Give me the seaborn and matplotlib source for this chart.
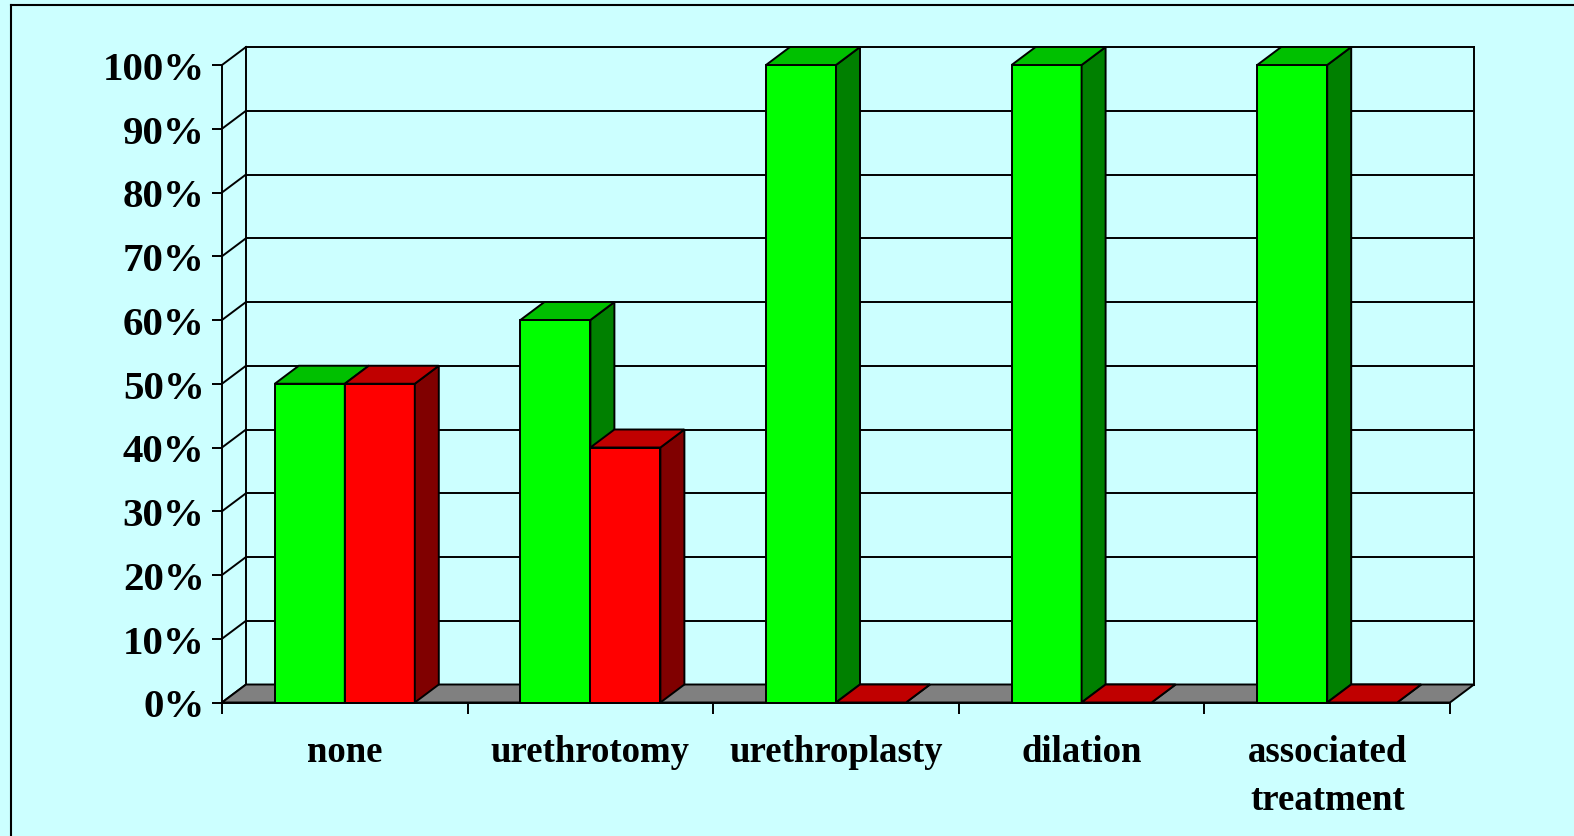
import numpy as np
import pandas as pd
import matplotlib
matplotlib.use("Agg")
import matplotlib.pyplot as plt
from matplotlib.patches import Polygon
from matplotlib.lines import Line2D
import seaborn as sns

# data
treatments = ["none", "urethrotomy", "urethroplasty", "dilation", "associated\ntreatment"]
green_pct = [50, 60, 100, 100, 100]
red_pct = [50, 40, 0, 0, 0]
yticks = list(range(0, 101, 10))
ytick_labels = [f"{v}%" for v in yticks]

df = pd.DataFrame({
    "treatment": treatments * 2,
    "pct": green_pct + red_pct,
    "outcome": ["green"] * len(treatments) + ["red"] * len(treatments),
})

bg = "#CCFFFF"
front_cols = ["#00FF00", "#FF0000"]
top_cols = ["#00C000", "#C00000"]
side_cols = ["#008000", "#800000"]
floor_col = "#808080"

plt.rcParams["font.family"] = ["Liberation Serif", "DejaVu Serif"]
plt.rcParams["font.weight"] = "bold"

fig = plt.figure(figsize=(15.74, 8.37), dpi=100, facecolor=bg)
ax = fig.add_axes([222 / 1574, (837 - 703.5) / 837, (1474 - 222) / 1574, (703.5 - 48) / 837])
ax.set_facecolor("none")

# depth offset of the fake 3d (in data units)
dx = 24 / 245.6
dy = 18 / 6.375
n = len(treatments)
x_lo, x_hi = -0.5, n - 0.5
lw = 1.4

sns.barplot(data=df, x="treatment", y="pct", hue="outcome", palette=front_cols,
            width=0.57, saturation=1, edgecolor="black", linewidth=lw,
            legend=False, ax=ax, zorder=5)

# back wall + gridlines
for v in yticks:
    ax.plot([x_lo + dx, x_hi + dx], [v + dy, v + dy], color="black", lw=lw, zorder=1, clip_on=False)
    ax.plot([x_lo, x_lo + dx], [v, v + dy], color="black", lw=lw, zorder=1, clip_on=False)
ax.plot([x_lo + dx, x_lo + dx], [dy, 100 + dy], color="black", lw=lw, zorder=1, clip_on=False)
ax.plot([x_hi + dx, x_hi + dx], [dy, 100 + dy], color="black", lw=lw, zorder=1, clip_on=False)

# floor
ax.add_patch(Polygon([(x_lo, 0), (x_hi, 0), (x_hi + dx, dy), (x_lo + dx, dy)],
                     closed=True, facecolor=floor_col, edgecolor="black", lw=lw,
                     zorder=2, clip_on=False))

# tops and sides of the bars
bars = []
for k, cont in enumerate(ax.containers):
    for p in cont.patches:
        bars.append((p.get_x(), k, p))
bars.sort(key=lambda b: b[0])
z = 5
for x0, k, p in bars:
    w = p.get_width()
    h = p.get_height()
    p.set_zorder(z)
    p.set_clip_on(False)
    side = Polygon([(x0 + w, 0), (x0 + w + dx, dy), (x0 + w + dx, h + dy), (x0 + w, h)],
                   closed=True, facecolor=side_cols[k], edgecolor="black", lw=lw,
                   zorder=z + 0.1, clip_on=False)
    top = Polygon([(x0, h), (x0 + w, h), (x0 + w + dx, h + dy), (x0 + dx, h + dy)],
                  closed=True, facecolor=top_cols[k], edgecolor="black", lw=lw,
                  zorder=z + 0.2, clip_on=False)
    ax.add_patch(side)
    ax.add_patch(top)
    z += 1

ax.set_xlim(x_lo, x_hi + dx)
ax.set_ylim(0, 100 + dy)

ax.set_yticks(yticks)
ax.set_yticklabels(ytick_labels, fontsize=29.5, fontweight="bold")
ax.tick_params(axis="y", length=7.5, width=lw, pad=5)

ax.set_xticks(range(n))
ax.set_xticklabels(treatments, fontsize=26.5, fontweight="bold", linespacing=1.45)
ax.set_xticks(np.arange(x_lo, x_hi + 0.1, 1), minor=True)
ax.tick_params(axis="x", which="major", length=0, pad=23)
ax.tick_params(axis="x", which="minor", length=8, width=lw)

ax.set_xlabel("")
ax.set_ylabel("")
ax.spines["top"].set_visible(False)
ax.spines["right"].set_visible(False)
ax.spines["left"].set_bounds(0, 100)
ax.spines["bottom"].set_bounds(x_lo, x_hi)
for s in ("left", "bottom"):
    ax.spines[s].set_linewidth(lw)
    ax.spines[s].set_zorder(50)

# outer frame (left and top only are visible in the picture)
fig.add_artist(Line2D([10.5 / 1574, 10.5 / 1574], [0, 1 - 6 / 837], color="black", lw=1.5))
fig.add_artist(Line2D([10.5 / 1574, 1], [1 - 6 / 837, 1 - 6 / 837], color="black", lw=1.5))

fig.savefig("out.png", dpi=100, facecolor=bg)
